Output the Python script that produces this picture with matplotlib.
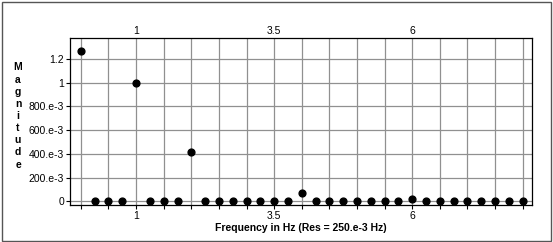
import matplotlib.pyplot as plt
from matplotlib.patches import Rectangle
from matplotlib.ticker import MultipleLocator

# spectrum bins, 0..8 Hz at 0.25 Hz resolution
freqs = [0, 0.25, 0.5, 0.75, 1, 1.25, 1.5, 1.75, 2, 2.25, 2.5, 2.75,
         3, 3.25, 3.5, 3.75, 4, 4.25, 4.5, 4.75, 5, 5.25, 5.5, 5.75,
         6, 6.25, 6.5, 6.75, 7, 7.25, 7.5, 7.75, 8]
mags = [1.27, 0, 0, 0, 1.0, 0, 0, 0, 0.418, 0, 0, 0,
        0, 0, 0, 0, 0.075, 0, 0, 0, 0, 0, 0, 0,
        0.024, 0, 0, 0, 0, 0, 0, 0, 0]

major_x = [1, 3.5, 6]
x_labels = ['1', '3.5', '6']
y_ticks = [0, 0.2, 0.4, 0.6, 0.8, 1.0, 1.2]
y_labels = ['0', '200.e-3', '400.e-3', '600.e-3', '800.e-3', '1', '1.2']

plt.rcParams['font.family'] = ['Liberation Sans', 'DejaVu Sans']

fig = plt.figure(figsize=(5.53, 2.42), dpi=100)
fig.patches.append(Rectangle((1.5 / 553, 1.5 / 242), 549 / 553, 238.5 / 242,
                             transform=fig.transFigure, fill=False,
                             edgecolor='#555555', linewidth=1))

ax = fig.add_axes([69.5 / 553, 1 - 205 / 242, 462 / 553, 167 / 242])
ax.scatter(freqs, mags, s=24, color='black', zorder=3, clip_on=False)

ax.set_xlim(-0.206, 8.16)
ax.set_ylim(-0.03, 1.377)

ax.set_xticks(major_x)
ax.set_xticklabels(x_labels)
ax.xaxis.set_minor_locator(MultipleLocator(0.5))
ax.set_yticks(y_ticks)
ax.set_yticklabels(y_labels)

ax.grid(True, which='both', axis='x', color='#909090', linewidth=0.9)
ax.grid(True, which='major', axis='y', color='#909090', linewidth=0.9)
ax.set_axisbelow(True)

ax.tick_params(axis='x', which='both', direction='out', length=3, width=0.8,
               labelsize=7.5, pad=1)
ax.tick_params(axis='y', direction='out', length=3, width=0.8,
               labelsize=7.5, pad=1)

# labels repeated along the top, no tick marks there
top = ax.secondary_xaxis('top')
top.set_xticks(major_x)
top.set_xticklabels(x_labels)
top.tick_params(length=0, labelsize=7.5, pad=1.5)
top.spines['top'].set_visible(False)

for s in ax.spines.values():
    s.set_linewidth(0.9)
    s.set_color('black')

ax.set_xlabel('Frequency in Hz (Res = 250.e-3 Hz)', fontsize=7.5,
              fontweight='bold', labelpad=2)
fig.text(18 / 553, 1 - 116 / 242, '\n'.join('Magnitude'), ha='center',
         va='center', fontsize=7.5, fontweight='bold', linespacing=1.27)

fig.savefig('out.png', dpi=100)
